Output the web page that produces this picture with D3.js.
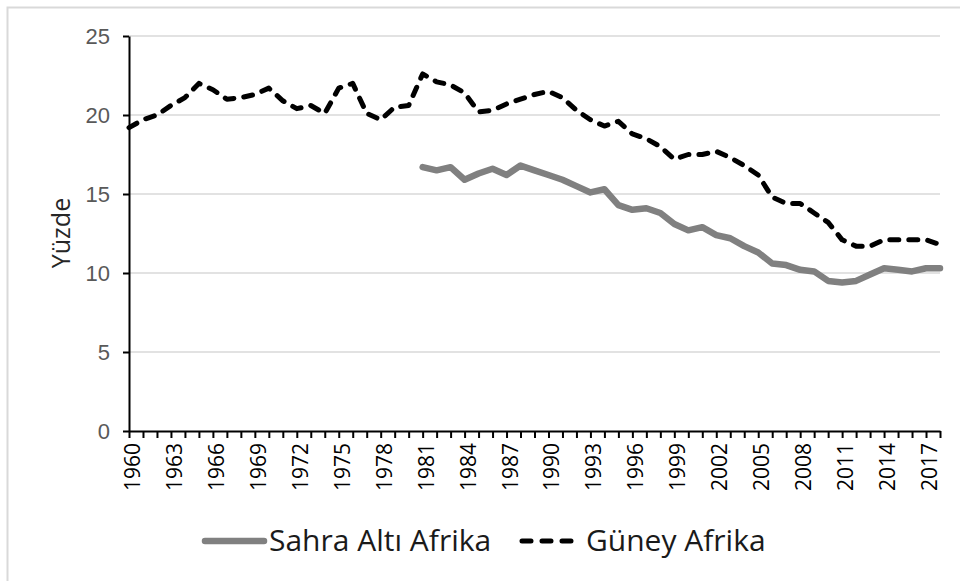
<!DOCTYPE html>
<html>
<head>
<meta charset="utf-8">
<script src="https://cdn.jsdelivr.net/npm/d3@7"></script>
<style>
  body { margin: 0; background: #fff; }
  svg { display: block; font-family: 'Open Sans', sans-serif; }
</style>
</head>
<body>
<svg id="chart" width="960" height="581"></svg>
<script>
// Years on the category axis
const years = d3.range(1960, 2019)

// Güney Afrika, 1960-2018
const guneyAfrika = [
  19.2, 19.7, 20.0, 20.6, 21.1, 22.0, 21.6, 21.0, 21.1, 21.3,
  21.7, 20.9, 20.4, 20.6, 20.1, 21.7, 22.0, 20.1, 19.7, 20.5,
  20.6, 22.6, 22.1, 21.9, 21.4, 20.2, 20.3, 20.7, 21.0, 21.3,
  21.5, 21.1, 20.3, 19.7, 19.3, 19.6, 18.8, 18.5, 18.0, 17.2,
  17.5, 17.5, 17.7, 17.3, 16.8, 16.2, 14.8, 14.4, 14.4, 13.8,
  13.2, 12.1, 11.7, 11.7, 12.1, 12.1, 12.1, 12.1, 11.8
]

// Sahra Altı Afrika, 1981-2018 (no data before 1981)
const sahraAltiStart = 1981
const sahraAltiAfrika = [
  16.7, 16.5, 16.7, 15.9, 16.3, 16.6, 16.2, 16.8, 16.5, 16.2,
  15.9, 15.5, 15.1, 15.3, 14.3, 14.0, 14.1, 13.8, 13.1, 12.7,
  12.9, 12.4, 12.2, 11.7, 11.3, 10.6, 10.5, 10.2, 10.1, 9.5,
  9.4, 9.5, 9.9, 10.3, 10.2, 10.1, 10.3, 10.3
]

const yTicks = [0, 5, 10, 15, 20, 25]
const xLabelYears = years.filter(y => (y - 1960) % 3 === 0)

const series = [
  { name: 'Sahra Altı Afrika', color: '#808080', width: 6.5, dash: null,
    values: sahraAltiAfrika.map((v, i) => ({ year: sahraAltiStart + i, value: v })) },
  { name: 'Güney Afrika', color: '#000', width: 5, dash: '9,10',
    values: guneyAfrika.map((v, i) => ({ year: years[i], value: v })) }
]

const svg = d3.select('#chart')

// outer chart border (only top and left are inside the picture)
svg.append('rect')
  .attr('x', 7.5).attr('y', 7.5)
  .attr('width', 1000).attr('height', 1000)
  .attr('fill', 'none').attr('stroke', '#d9d9d9').attr('stroke-width', 2)

const x = d3.scalePoint().domain(years).range([129, 940])
const y = d3.scaleLinear().domain([0, 25]).range([431, 36])

// gridlines
svg.append('g')
  .selectAll('line')
  .data(yTicks.filter(d => d > 0))
  .join('line')
  .attr('x1', 129).attr('x2', 940)
  .attr('y1', d => y(d)).attr('y2', d => y(d))
  .attr('stroke', '#d9d9d9').attr('stroke-width', 1.5)

// y axis
const yAxis = svg.append('g')
  .attr('transform', 'translate(129,0)')
  .call(d3.axisLeft(y).tickValues(yTicks).tickSize(6).tickPadding(13).tickSizeOuter(0))
yAxis.select('.domain').attr('stroke', '#000').attr('stroke-width', 2)
yAxis.selectAll('.tick line').attr('stroke', '#000').attr('stroke-width', 2)
yAxis.selectAll('text').attr('fill', '#595959').style('font-size', '22px')

// x axis
const xAxis = svg.append('g')
  .attr('transform', 'translate(0,431)')
  .call(d3.axisBottom(x).tickValues(years).tickSize(7).tickSizeOuter(0).tickFormat(''))
xAxis.select('.domain').attr('stroke', '#000').attr('stroke-width', 2)
xAxis.selectAll('.tick line').attr('stroke', '#000').attr('stroke-width', 2)

svg.append('g')
  .selectAll('text')
  .data(xLabelYears)
  .join('text')
  .attr('transform', d => 'translate(' + (x(d) + 11) + ',443) rotate(-90)')
  .attr('text-anchor', 'end')
  .attr('fill', '#000')
  .style('font-size', '21px')
  .text(d => d)

// y axis title
svg.append('text')
  .attr('transform', 'translate(70,233) rotate(-90)')
  .attr('text-anchor', 'middle')
  .attr('fill', '#262626')
  .style('font-size', '25px')
  .text('Yüzde')

// lines
const line = d3.line()
  .x(d => x(d.year))
  .y(d => y(d.value))

svg.append('g')
  .selectAll('path')
  .data(series)
  .join('path')
  .attr('d', d => line(d.values))
  .attr('fill', 'none')
  .attr('stroke', d => d.color)
  .attr('stroke-width', d => d.width)
  .attr('stroke-dasharray', d => d.dash)
  .attr('stroke-linecap', 'round')
  .attr('stroke-linejoin', 'round')

// legend
const legendItems = [
  { s: series[0], x: 205 },
  { s: series[1], x: 522 }
]
const legend = svg.append('g').selectAll('g')
  .data(legendItems)
  .join('g')
  .attr('transform', d => 'translate(' + d.x + ',541)')
legend.append('line')
  .attr('x1', 0).attr('x2', 59)
  .attr('stroke', d => d.s.color)
  .attr('stroke-width', d => d.s.width)
  .attr('stroke-dasharray', d => d.s.dash ? '9,11' : null)
  .attr('stroke-linecap', 'round')
legend.append('text')
  .attr('x', 64).attr('y', 10)
  .attr('fill', '#1a1a1a')
  .style('font-size', '30px')
  .text(d => d.s.name)
</script>
</body>
</html>
